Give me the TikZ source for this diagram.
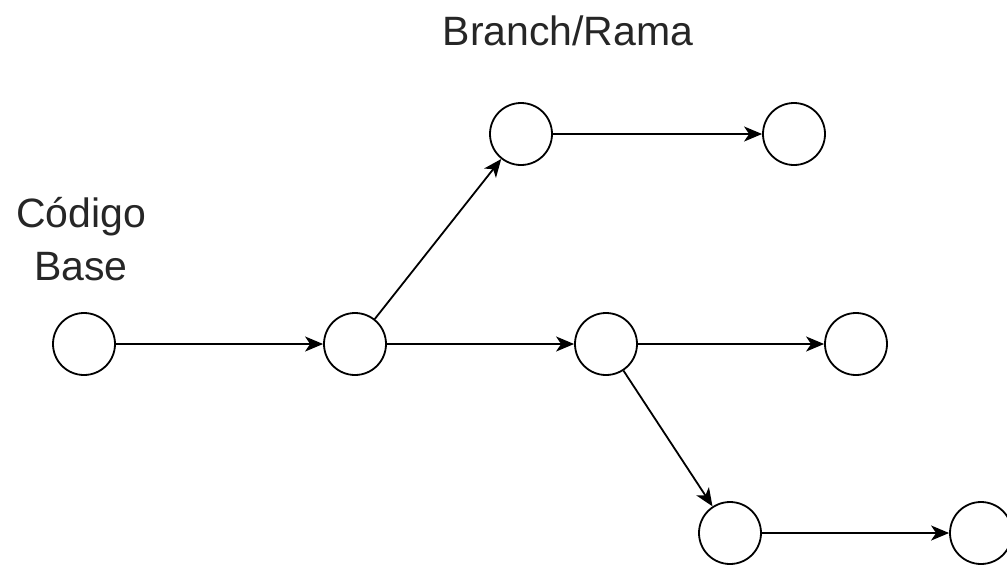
\documentclass[tikz,border=0pt]{standalone}
\usepackage{fontspec}
\setmainfont{Liberation Sans}
\usetikzlibrary{arrows.meta}
\begin{document}
\begin{tikzpicture}[x=1pt,y=-1pt,
  commit/.style={circle,draw=black,line width=1.8pt,minimum size=62pt,inner sep=0pt,fill=white},
  link/.style={line width=1.8pt,-{Stealth[length=18pt,width=15pt,inset=5pt]}},
  lbl/.style={font=\fontsize{41}{52}\selectfont,text=black!85,align=center,inner sep=0pt}]
\useasboundingbox (0,0) rectangle (1007,566);
\node[commit] (a) at (84,344) {};
\node[commit] (b) at (355,344) {};
\node[commit] (c) at (521,134) {};
\node[commit] (d) at (794,134) {};
\node[commit] (e) at (606,344) {};
\node[commit] (f) at (856,344) {};
\node[commit] (g) at (730,533) {};
\node[commit] (h) at (981,533) {};
\node[lbl,anchor=base] (t1) at (568,45) {Branch/Rama};
\node[lbl,anchor=base] (t2) at (81,227) {Código};
\node[lbl,anchor=base] (t3) at (81,280) {Base};
\draw[link] (a) -- (b);
\draw[link] (b) -- (e);
\draw[link] (b) -- (c);
\draw[link] (c) -- (d);
\draw[link] (e) -- (f);
\draw[link] (e) -- (g);
\draw[link] (g) -- (h);
\end{tikzpicture}
\end{document}
